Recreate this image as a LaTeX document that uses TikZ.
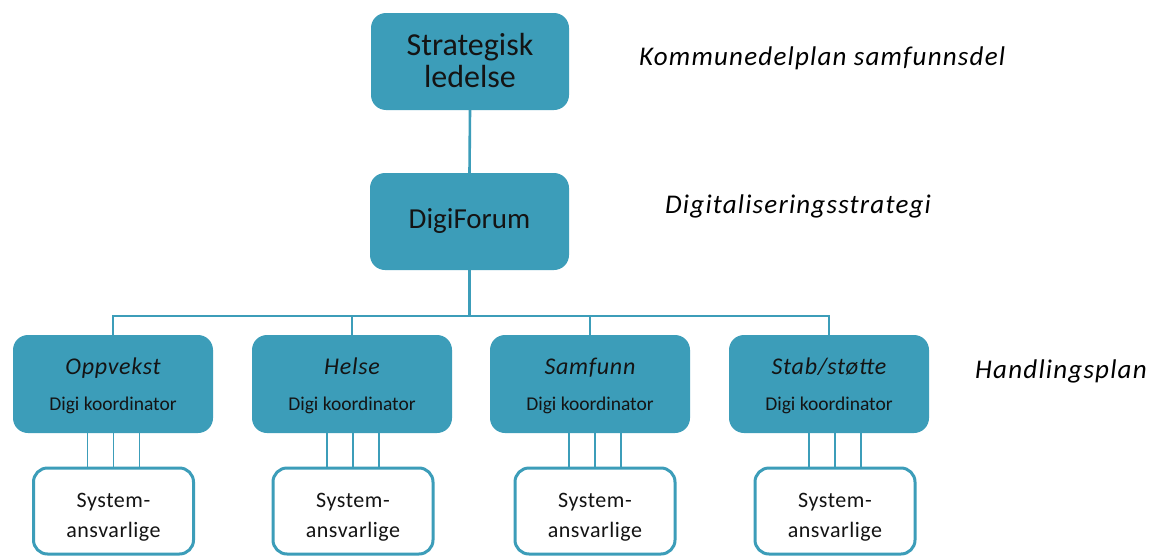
\documentclass[tikz,border=0pt]{standalone}
\usepackage{fontspec}
\setmainfont{Carlito}
\newfontfamily\lblfont[LetterSpace=4.5]{Carlito}
\newfontfamily\unitfont[LetterSpace=3]{Carlito}
\newfontfamily\sysfont[LetterSpace=2.5]{Carlito}
\definecolor{teal1}{RGB}{60,157,185}
\definecolor{txt}{RGB}{20,20,20}
\begin{document}
\begin{tikzpicture}[x=1pt,y=-1pt,
  bluebox/.style={rectangle, rounded corners=15pt, fill=teal1, draw=none, inner sep=0pt},
  sysbox/.style={rectangle, rounded corners=14pt, fill=white, draw=teal1, line width=3pt, inner sep=0pt, minimum width=160pt, minimum height=86pt},
  tx/.style={anchor=base, inner sep=0pt, text=txt},
  conn/.style={draw=teal1, line width=2.6pt},
  thin/.style={draw=teal1, line width=1.3pt},
  lbl/.style={anchor=base west, inner sep=0pt, text=black, font=\fontsize{27}{30}\lblfont\itshape}
]
\useasboundingbox[fill=white] (0,0) rectangle (1149,557);

\node[bluebox, minimum width=198pt, minimum height=97pt] (strat) at (470,61.5) {};
\node[tx, font=\fontsize{32}{36}\selectfont] (strat1) at (470,55) {Strategisk};
\node[tx, font=\fontsize{32}{36}\selectfont] (strat2) at (470,87) {ledelse};
\node[bluebox, minimum width=199pt, minimum height=97pt] (digi) at (469.5,221.5) {};
\node[tx, font=\fontsize{29}{33}\selectfont] (digit) at (469.5,228) {DigiForum};

\newcommand{\unitbox}[3]{%
  \node[bluebox, minimum width=200pt, minimum height=98pt] (#1) at (#2,384) {};
  \node[tx, font=\fontsize{24}{28}\unitfont\itshape] (#1a) at (#2,374) {#3};
  \node[tx, font=\fontsize{19.5}{22}\selectfont] (#1b) at (#2,410) {Digi koordinator};}
\unitbox{opp}{113}{Oppvekst}
\unitbox{hel}{352}{Helse}
\unitbox{sam}{590}{Samfunn}
\unitbox{stab}{829}{Stab/støtte}

\newcommand{\sysnode}[2]{%
  \node[sysbox] (#1) at (#2,511) {};
  \node[tx, font=\fontsize{22}{26}\sysfont] (#1a) at (#2,507) {System-};
  \node[tx, font=\fontsize{22}{26}\sysfont] (#1b) at (#2,537) {ansvarlige};}
\sysnode{s1}{113.5}
\sysnode{s2}{353}
\sysnode{s3}{595}
\sysnode{s4}{835}

\coordinate (bus) at (0,316);
\draw[conn] (strat.south) -- (digi.north);
\draw[conn] (digi.south) -- (digi.south |- bus);
\draw[conn] (opp.north) -- (opp.north |- bus) -- (stab.north |- bus) -- (stab.north);
\draw[conn] (hel.north) -- (hel.north |- bus);
\draw[conn] (sam.north) -- (sam.north |- bus);

\foreach \u/\s in {opp/s1, hel/s2, sam/s3, stab/s4}{
  \foreach \d in {-26,0,26}{
    \draw[thin] ([xshift=\d pt]\s.north) -- ([xshift=\d pt]\s.north |- \u.south);
  }
}

\node[lbl] (l1) at (639,65) {Kommunedelplan samfunnsdel};
\node[lbl] (l2) at (665,213) {Digitaliseringsstrategi};
\node[lbl] (l3) at (975,378) {Handlingsplan};
\end{tikzpicture}
\end{document}
